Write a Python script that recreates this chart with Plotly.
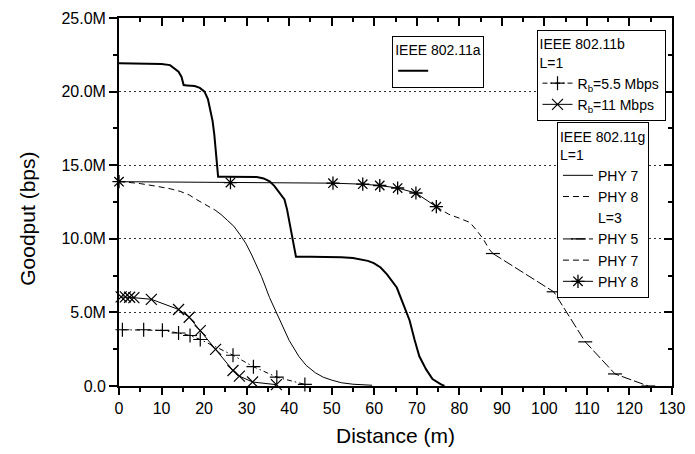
import plotly.graph_objects as go

# ---------------- data (goodput in Mbps, distance in m) ----------------
a_x = [0, 5, 10, 12, 13.2, 14.0, 14.7, 15.0, 15.2, 16, 17.8, 19, 20.1, 20.9, 21.6, 22.0, 22.4, 22.7, 23.0, 23.3,
       25, 30, 32.4, 34, 35.4, 36.5, 37.5, 38.3, 38.9, 39.5, 40.0, 40.4, 40.9, 41.3, 41.6,
       45, 50, 52.3, 55, 57, 58.5, 59.9, 61.5, 63.0, 64.2, 65.3, 66.8, 68.3, 69.5, 70.6, 72.2, 73.7, 75.6, 76.5]
a_y = [21.93, 21.92, 21.88, 21.8, 21.55, 21.35, 21.0, 20.7, 20.44, 20.42, 20.38, 20.25, 20.0, 19.5, 18.67, 18.0, 17.1, 16.2, 15.33, 14.22,
       14.22, 14.22, 14.2, 14.1, 13.9, 13.6, 13.2, 12.9, 12.67, 12.0, 11.2, 10.44, 9.7, 9.1, 8.78,
       8.78, 8.77, 8.75, 8.7, 8.6, 8.5, 8.35, 8.05, 7.58, 7.1, 6.69, 5.58, 4.47, 3.13, 2.02, 1.13, 0.47, 0.13, 0.0]

b55_x = [0.8, 5.8, 10.2, 14.0, 16.7, 19.1, 26.8, 31.6, 37.1, 43.7]
b55_y = [3.82, 3.82, 3.78, 3.6, 3.43, 3.16, 2.09, 1.31, 0.6, 0.11]

b11_x = [0.5, 1.5, 2.5, 3.5, 7.6, 14.0, 16.5, 19.1, 22.7, 26.8, 28.3, 31.4, 37.0]
b11_y = [6.05, 6.05, 6.03, 6.0, 5.89, 5.2, 4.67, 3.76, 2.49, 1.05, 0.67, 0.27, 0.09]

g1_phy8_x = [0, 1.8, 5, 9, 12, 14.4, 16.5, 18.2, 20, 21.6, 22.6]
g1_phy8_y = [13.9, 13.84, 13.75, 13.56, 13.4, 13.22, 12.98, 12.67, 12.4, 12.11, 11.95]

g1_phy7_x = [22.6, 24, 25.5, 27, 28.4, 29.8, 31.2, 32.4, 33.5, 35.4, 37.0, 38.5, 40, 42.3, 44, 46.2, 48, 50, 52.3, 55, 59.5]
g1_phy7_y = [11.95, 11.65, 11.25, 10.85, 10.3, 9.7, 8.9, 8.1, 7.44, 6.0, 5.0, 4.0, 3.1, 2.0, 1.4, 0.89, 0.6, 0.4, 0.22, 0.12, 0.05]

g3_phy8_x = [0, 26.2, 50.3, 57.3, 61.3, 65.5, 69.8, 74.6]
g3_phy8_y = [13.88, 13.82, 13.78, 13.71, 13.62, 13.45, 13.11, 12.18]

g3_phy7_x = [74.6, 77.5, 80, 82.5, 84, 85.6, 87, 87.9]
g3_phy7_y = [12.18, 11.67, 11.4, 11.11, 10.6, 10.0, 9.3, 9.0]

g3_phy5_x = [87.9, 102.2, 109.6, 116.6, 124.4]
g3_phy5_y = [9.0, 6.4, 3.0, 0.82, 0.0]

y_tickvals = [0, 5, 10, 15, 20, 25]
y_ticktext = ["0.0", "5.0M", "10.0M", "15.0M", "20.0M", "25.0M"]
y_minorvals = [2.5, 7.5, 12.5, 17.5, 22.5]
x_tickvals = list(range(0, 131, 10))

FONT = "Liberation Sans, Arial, sans-serif"
DASH = "6px,4px"

fig = go.Figure()

# 802.11a
fig.add_trace(go.Scatter(x=a_x, y=a_y, mode="lines", name="",
                         line=dict(color="black", width=2), legend="legend"))

# 802.11b
fig.add_trace(go.Scatter(x=b55_x, y=b55_y, mode="lines+markers", name="R<sub>b</sub>=5.5 Mbps",
                         line=dict(color="black", width=1, dash="5px,3px,1.5px,3px"),
                         marker=dict(symbol="cross-thin-open", size=10, line=dict(color="black", width=1.2)),
                         cliponaxis=False, legend="legend2"))
fig.add_trace(go.Scatter(x=b11_x, y=b11_y, mode="lines+markers", name="R<sub>b</sub>=11 Mbps",
                         line=dict(color="black", width=1),
                         marker=dict(symbol="x-thin-open", size=11, line=dict(color="black", width=1.2)),
                         cliponaxis=False, legend="legend2"))

# 802.11g
fig.add_trace(go.Scatter(x=g1_phy7_x, y=g1_phy7_y, mode="lines", name="PHY 7",
                         line=dict(color="black", width=1), legend="legend3"))
fig.add_trace(go.Scatter(x=g1_phy8_x, y=g1_phy8_y, mode="lines", name="PHY 8",
                         line=dict(color="black", width=1, dash=DASH), legend="legend3"))
fig.add_trace(go.Scatter(x=[None], y=[None], mode="lines", name="L=3",
                         line=dict(color="rgba(0,0,0,0)", width=1), legend="legend3"))
fig.add_trace(go.Scatter(x=g3_phy5_x, y=g3_phy5_y, mode="lines+markers", name="PHY 5",
                         line=dict(color="black", width=1, dash="10px,3px"),
                         marker=dict(symbol="line-ew-open", size=10, line=dict(color="black", width=1.2)),
                         cliponaxis=False, legend="legend3"))
fig.add_trace(go.Scatter(x=g3_phy7_x, y=g3_phy7_y, mode="lines", name="PHY 7",
                         line=dict(color="black", width=1, dash=DASH), legend="legend3"))
fig.add_trace(go.Scatter(x=g3_phy8_x, y=g3_phy8_y, mode="lines+markers", name="PHY 8",
                         line=dict(color="black", width=1),
                         marker=dict(symbol="asterisk-open", size=11, line=dict(color="black", width=1.3)),
                         cliponaxis=False, legend="legend3"))

# helper trace for the top/right inner tick axes
fig.add_trace(go.Scatter(x=[None], y=[None], xaxis="x2", yaxis="y2", showlegend=False, hoverinfo="skip"))

LFONT = dict(family=FONT, size=14, color="black")
legend_common = dict(bgcolor="white", bordercolor="black", borderwidth=1, font=LFONT,
                     xanchor="left", yanchor="top", tracegroupgap=0)

fig.update_layout(
    width=695, height=454,
    margin=dict(l=119, r=10, t=16, b=63),
    paper_bgcolor="white", plot_bgcolor="white",
    font=dict(family=FONT, color="black"),
    showlegend=True,
    xaxis=dict(range=[0, 130], tickvals=x_tickvals, ticks="outside", ticklen=7, tickwidth=1.5,
               tickcolor="black", showline=True, linecolor="black", linewidth=1.8, mirror=True,
               showgrid=False, zeroline=False, tickfont=dict(size=16), ticklabeloverflow="allow",
               minor=dict(dtick=5, tick0=0, ticks="outside", ticklen=4, tickwidth=1.5, tickcolor="black", showgrid=False),
               title=dict(text="Distance (m)", font=dict(size=21), standoff=12)),
    yaxis=dict(range=[0, 25], tickvals=y_tickvals, ticktext=y_ticktext, ticks="outside", ticklen=8, tickwidth=1.5,
               tickcolor="black", showline=True, linecolor="black", linewidth=1.8, mirror=True,
               showgrid=True, gridcolor="#333333", gridwidth=1, griddash="2px,3px", zeroline=False,
               tickfont=dict(size=16), ticklabeloverflow="allow",
               minor=dict(tickvals=y_minorvals, ticks="outside", ticklen=4, tickwidth=1.5, tickcolor="black", showgrid=False)),
    xaxis2=dict(range=[0, 130], overlaying="x", side="top", anchor="y", tickvals=x_tickvals, ticks="inside",
                ticklen=8, tickwidth=1.5, tickcolor="black", showticklabels=False, showgrid=False,
                zeroline=False, showline=False,
                minor=dict(dtick=5, tick0=0, ticks="inside", ticklen=4, tickwidth=1.5, tickcolor="black", showgrid=False)),
    yaxis2=dict(range=[0, 25], overlaying="y", side="right", anchor="x", tickvals=y_tickvals, ticks="inside",
                ticklen=8, tickwidth=1.5, tickcolor="black", showticklabels=False, showgrid=False,
                zeroline=False, showline=False,
                minor=dict(tickvals=y_minorvals, ticks="inside", ticklen=4, tickwidth=1.5, tickcolor="black", showgrid=False)),
    legend=dict(legend_common, x=0.494, y=0.951, title=dict(text="IEEE 802.11a", side="top", font=LFONT)),
    legend2=dict(legend_common, x=0.755, y=0.967, title=dict(text="IEEE 802.11b<br>L=1", side="top", font=LFONT)),
    legend3=dict(legend_common, x=0.792, y=0.7165, title=dict(text="IEEE 802.11g<br>L=1", side="top", font=LFONT)),
    annotations=[dict(text="Goodput (bps)", xref="paper", yref="paper", x=-0.166, y=0.455,
                      xanchor="center", yanchor="middle", textangle=-90, showarrow=False,
                      font=dict(family=FONT, size=21, color="black"))],
)

fig.write_html("out.html")
